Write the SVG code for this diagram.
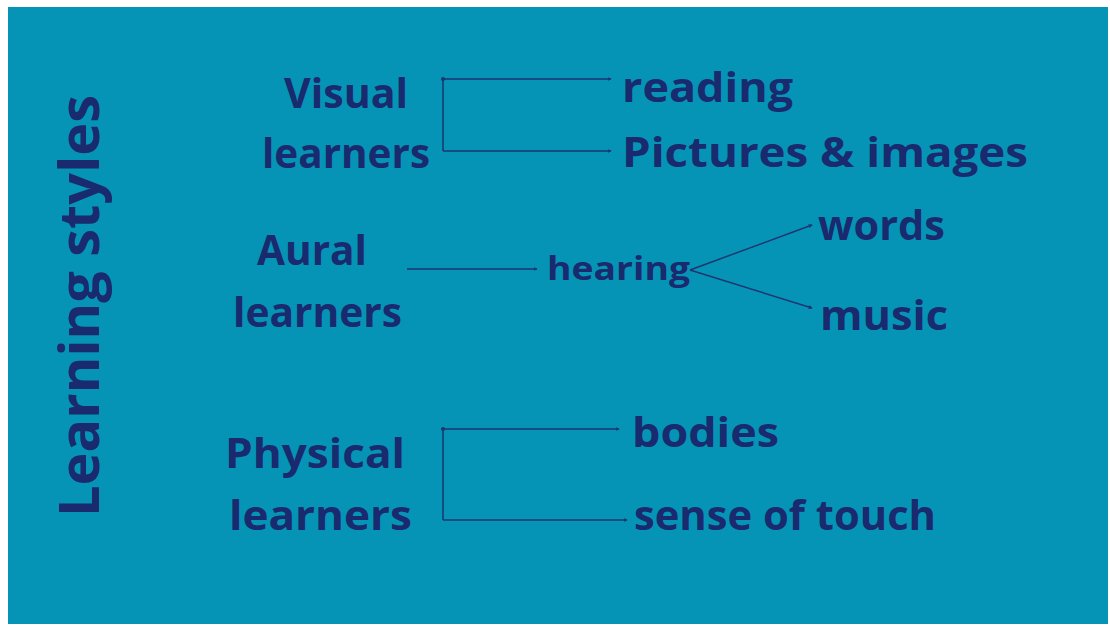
<svg xmlns="http://www.w3.org/2000/svg" width="1110" height="626" viewBox="0 0 1110 626">
<defs>
<style>
.t{font-family:"Open Sans","Liberation Sans",sans-serif;font-weight:bold;fill:#1a2a6e}
.c{stroke:#1d3570;stroke-width:1.5;fill:none}
</style>
<marker id="ah" viewBox="0 0 6 6" refX="5" refY="3" markerWidth="4" markerHeight="4" orient="auto" markerUnits="userSpaceOnUse"><path d="M0,0 L6,3 L0,6 z" fill="#1d3570"/></marker>
<marker id="dot" viewBox="0 0 4 4" refX="2" refY="2" markerWidth="4" markerHeight="4" markerUnits="userSpaceOnUse"><circle cx="2" cy="2" r="2" fill="#1d3570"/></marker>
</defs>
<rect x="0" y="0" width="1110" height="626" fill="#ffffff"/>
<rect x="8" y="7" width="1100" height="617" fill="#0694b6"/>
<g id="title"><text class="t" transform="translate(99,306) rotate(-90)" text-anchor="middle" font-size="55" textLength="422" lengthAdjust="spacingAndGlyphs">Learning styles</text></g>
<g id="visual"><text class="t" font-size="42"><tspan x="284" y="108" textLength="124" lengthAdjust="spacingAndGlyphs">Visual</tspan><tspan x="262" y="168" textLength="168" lengthAdjust="spacingAndGlyphs">learners</tspan></text></g>
<g id="reading"><text class="t" x="622" y="102" font-size="42" textLength="171" lengthAdjust="spacingAndGlyphs">reading</text></g>
<g id="pictures"><text class="t" x="622" y="167" font-size="42" textLength="406" lengthAdjust="spacingAndGlyphs">Pictures &amp; images</text></g>
<g id="aural"><text class="t" font-size="42"><tspan x="257" y="265" textLength="110" lengthAdjust="spacingAndGlyphs">Aural</tspan><tspan x="233" y="327" textLength="169" lengthAdjust="spacingAndGlyphs">learners</tspan></text></g>
<g id="hearing"><text class="t" x="547" y="280" font-size="33" textLength="143" lengthAdjust="spacingAndGlyphs">hearing</text></g>
<g id="words"><text class="t" x="818" y="240" font-size="42" textLength="127" lengthAdjust="spacingAndGlyphs">words</text></g>
<g id="music"><text class="t" x="820" y="330" font-size="42" textLength="128" lengthAdjust="spacingAndGlyphs">music</text></g>
<g id="physical"><text class="t" font-size="42"><tspan x="225" y="468" textLength="180" lengthAdjust="spacingAndGlyphs">Physical</tspan><tspan x="229" y="530" textLength="183" lengthAdjust="spacingAndGlyphs">learners</tspan></text></g>
<g id="bodies"><text class="t" x="632" y="447" font-size="42" textLength="147" lengthAdjust="spacingAndGlyphs">bodies</text></g>
<g id="touch"><text class="t" x="634" y="530" font-size="42" textLength="302" lengthAdjust="spacingAndGlyphs">sense of touch</text></g>
<g id="connectors">
<path class="c" d="M443,79 L443,151" marker-start="url(#dot)"/>
<path class="c" d="M443,79 L611,79" marker-end="url(#ah)"/>
<path class="c" d="M443,151 L611,151" marker-end="url(#ah)"/>
<path class="c" d="M407,269 L537,269" marker-end="url(#ah)"/>
<path class="c" d="M690,270 L812,225" marker-end="url(#ah)"/>
<path class="c" d="M690,270 L812,308" marker-end="url(#ah)"/>
<path class="c" d="M443,429 L443,520" marker-start="url(#dot)"/>
<path class="c" d="M443,429 L619,429" marker-end="url(#ah)"/>
<path class="c" d="M443,520 L627,520" marker-end="url(#ah)"/>
</g>
</svg>
